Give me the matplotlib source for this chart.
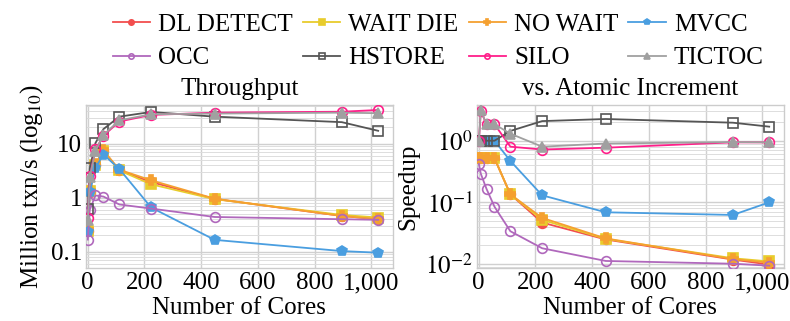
import matplotlib
matplotlib.use("Agg")
import matplotlib.pyplot as plt
from matplotlib.ticker import FixedLocator, FuncFormatter, LogLocator, NullFormatter

plt.rcParams['font.family'] = ['Liberation Serif', 'DejaVu Serif']
plt.rcParams['mathtext.fontset'] = 'stix'

cores = [1, 8, 28, 56, 112, 224, 448, 896, 1024]
series_names = ["DL DETECT", "WAIT DIE", "NO WAIT", "MVCC", "OCC", "HSTORE", "SILO", "TICTOC"]

thr_dl_detect = [0.24, 1.30, 4.0, 7.4, 3.2, 1.95, 0.95, 0.46, 0.40]
thr_wait_die = [0.246, 1.33, 4.1, 7.2, 3.2, 1.77, 0.94, 0.48, 0.43]
thr_no_wait = [0.25, 1.35, 4.2, 7.5, 3.3, 2.1, 0.96, 0.46, 0.40]
thr_mvcc = [0.23, 1.25, 3.6, 6.3, 3.4, 0.66, 0.166, 0.103, 0.096]
thr_occ = [0.168, 0.6, 1.1, 1.05, 0.75, 0.63, 0.44, 0.40, 0.39]
thr_hstore = [0.63, 3.5, 10.3, 18.6, 31.6, 38.6, 31.6, 25.0, 17.3]
thr_silo = [0.43, 2.5, 7.8, 14.0, 25.7, 34.0, 37.5, 39.0, 42.0]
thr_tictoc = [0.38, 2.4, 7.3, 14.5, 27.0, 35.0, 36.0, 37.5, 36.6]

spd_dl_detect = [0.52, 0.52, 0.52, 0.52, 0.135, 0.047, 0.025, 0.0118, 0.0098]
spd_wait_die = [0.52, 0.52, 0.52, 0.52, 0.135, 0.052, 0.0255, 0.0124, 0.011]
spd_no_wait = [0.52, 0.52, 0.52, 0.52, 0.135, 0.056, 0.026, 0.012, 0.0105]
spd_mvcc = [1.0, 1.0, 1.0, 1.0, 0.47, 0.13, 0.069, 0.0625, 0.10]
spd_occ = [0.42, 0.29, 0.165, 0.085, 0.034, 0.018, 0.0112, 0.0101, 0.0094]
spd_hstore = [1.0, 1.0, 1.0, 1.0, 1.44, 2.08, 2.25, 1.96, 1.69]
spd_silo = [1.0, 3.0, 1.85, 1.85, 0.8, 0.72, 0.77, 0.94, 0.94]
spd_tictoc = [1.0, 3.1, 1.85, 1.85, 1.3, 0.8, 0.9, 0.95, 0.94]

thr = [thr_dl_detect, thr_wait_die, thr_no_wait, thr_mvcc, thr_occ, thr_hstore, thr_silo, thr_tictoc]
spd = [spd_dl_detect, spd_wait_die, spd_no_wait, spd_mvcc, spd_occ, spd_hstore, spd_silo, spd_tictoc]

colors = ['#f24e4e', '#e8cc2c', '#f5a030', '#4a9ee0', '#b068bc', '#555555', '#ff1f8a', '#a0a0a0']
markers = ['o', 's', 'P', 'p', 'o', 's', 'o', '^']
hollow = [False, False, False, False, True, True, True, False]

fig = plt.figure(figsize=(7.9, 3.21), dpi=100)
ax1 = fig.add_axes([0.109, 0.165, 0.388, 0.508])
ax2 = fig.add_axes([0.604, 0.165, 0.388, 0.508])

fs = 18

def style(ax):
    ax.set_yscale('log')
    ax.set_xlim(-5, 1075)
    ax.xaxis.set_major_locator(FixedLocator([0, 200, 400, 600, 800, 1000]))
    ax.xaxis.set_major_formatter(FuncFormatter(lambda v, p: f"{int(v):,}"))
    ax.yaxis.set_minor_locator(LogLocator(base=10, subs=range(2, 10)))
    ax.yaxis.set_minor_formatter(NullFormatter())
    ax.grid(True, which='major', color='#d0d0d0', lw=1.0)
    ax.grid(True, which='minor', axis='y', color='#dddddd', lw=0.7)
    ax.set_axisbelow(True)
    for s in ax.spines.values():
        s.set_color('#cccccc')
        s.set_linewidth(1.0)
    ax.tick_params(which='both', length=0, labelsize=fs, pad=3)
    ax.set_xlabel("Number of Cores", fontsize=fs, labelpad=2)

handles = []
for ax, data in ((ax1, thr), (ax2, spd)):
    style(ax)
    for i, ys in enumerate(data):
        mfc = 'none' if hollow[i] else colors[i]
        ln, = ax.plot(cores, ys, color=colors[i], marker=markers[i], ms=7,
                      mfc=mfc, mec=colors[i], mew=1.2, lw=1.3, label=series_names[i],
                      zorder=3 + i * 0.1)
        if ax is ax1:
            handles.append(ln)

ax1.set_ylim(0.05, 52)
ax1.yaxis.set_major_locator(FixedLocator([0.1, 1, 10]))
ax1.yaxis.set_major_formatter(FuncFormatter(lambda v, p: {0.1: '0.1', 1: '1', 10: '10'}.get(round(v, 3), '')))
ax1.set_ylabel("Million txn/s (log$_{10}$)", fontsize=fs, labelpad=4)
ax1.set_title("Throughput", fontsize=fs, pad=7)

ax2.set_ylim(0.0086, 3.8)
ax2.yaxis.set_major_locator(FixedLocator([0.01, 0.1, 1]))
ax2.yaxis.set_major_formatter(FuncFormatter(lambda v, p: {0.01: '$10^{-2}$', 0.1: '$10^{-1}$', 1.0: '$10^{0}$'}.get(round(v, 3), '')))
ax2.set_ylabel("Speedup", fontsize=fs, labelpad=4)
ax2.set_title("vs. Atomic Increment", fontsize=fs, pad=7)

# legend filled row-wise (matplotlib fills columns first)
order = [0, 4, 1, 5, 2, 6, 3, 7]
leg = fig.legend(handles=[handles[k] for k in order], loc='upper left',
                 bbox_to_anchor=(0.13, 0.99), ncol=4,
                 frameon=False, fontsize=fs, markerscale=0.55, handlelength=1.5,
                 handletextpad=0.32, columnspacing=0.4, labelspacing=0.45, borderaxespad=0.0)

fig.savefig("out.png", dpi=100)
